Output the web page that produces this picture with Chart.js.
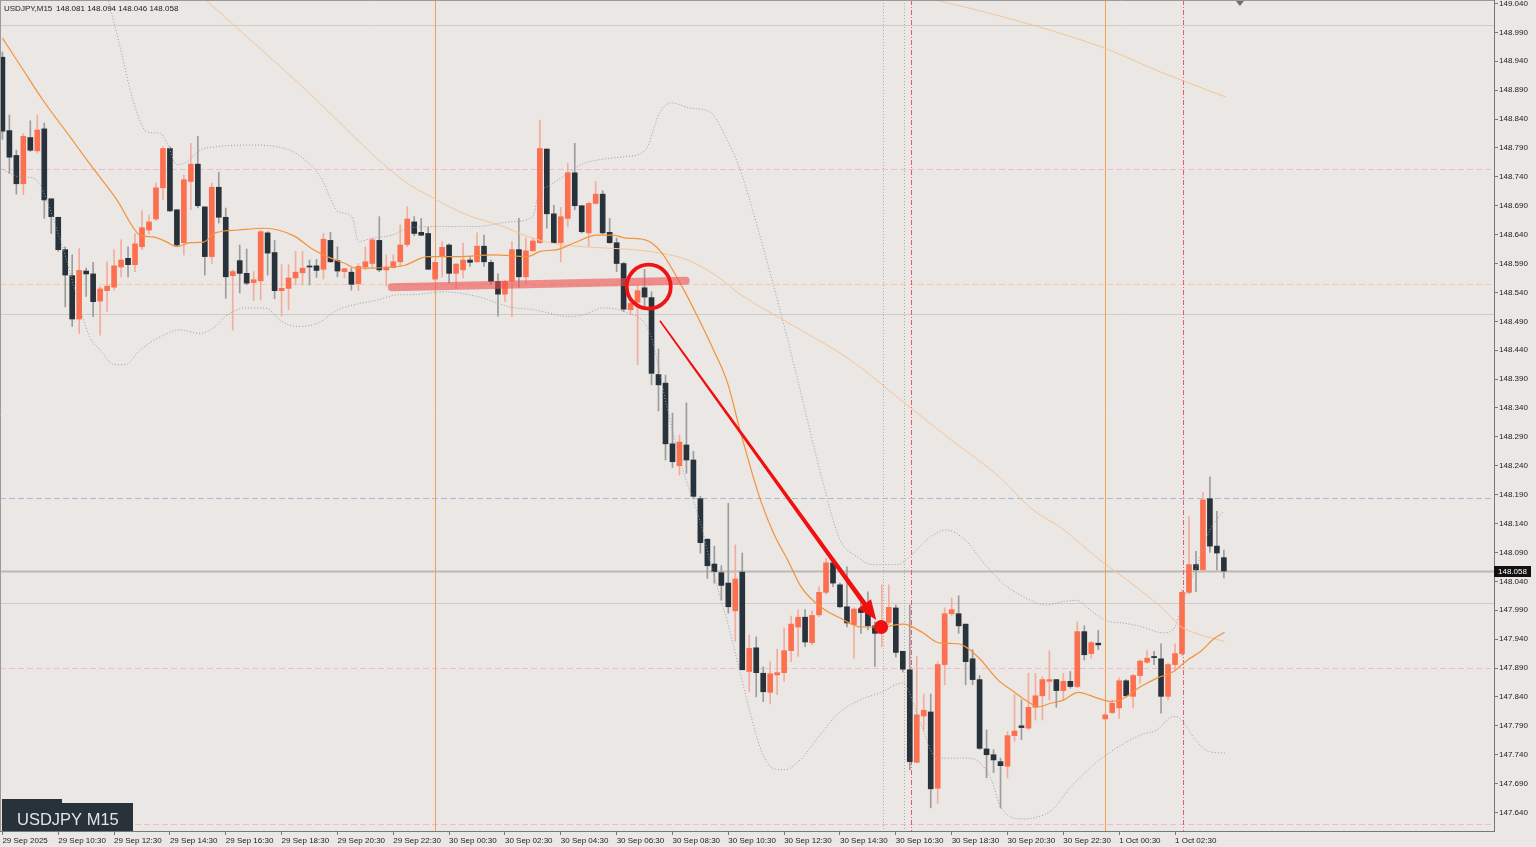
<!DOCTYPE html>
<html>
<head>
<meta charset="utf-8">
<title>USDJPY M15</title>
<script src="https://cdn.jsdelivr.net/npm/chart.js@4.4.1/dist/chart.umd.min.js"></script>
<style>
  html, body { margin: 0; padding: 0; background: #eae7e4; overflow: hidden; }
  canvas { display: block; }
</style>
</head>
<body>
<canvas id="priceChart" width="1536" height="847"></canvas>
<script>
'use strict';

/* USDJPY M15 candles, 29 Sep 08:30 -> 1 Oct 04:15 (one entry per bar) */
const opens = [
  148.947,148.820,148.777,148.728,148.808,148.785,148.823,148.702,148.670,148.614,
  148.569,148.494,148.577,148.572,148.525,148.543,148.549,148.584,148.599,148.588,
  148.619,148.648,148.667,148.721,148.789,148.683,148.626,148.732,148.762,148.688,
  148.602,148.722,148.670,148.569,148.595,148.573,148.557,148.560,148.643,148.609,
  148.543,148.547,148.565,148.574,148.585,148.586,148.580,148.630,148.595,148.576,
  148.575,148.555,148.584,148.590,148.630,148.579,148.583,148.593,148.623,148.662,
  148.644,148.642,148.563,148.602,148.622,148.573,148.579,148.596,148.593,148.620,
  148.592,148.559,148.537,148.560,148.614,148.567,148.612,148.626,148.788,148.676,
  148.626,148.668,148.747,148.690,148.643,148.694,148.710,148.644,148.626,148.590,
  148.510,148.523,148.548,148.531,148.398,148.383,148.278,148.240,148.276,148.250,
  148.183,148.113,148.070,148.055,148.037,147.989,148.056,147.884,147.925,147.881,
  147.848,147.878,147.882,147.920,147.961,147.978,147.934,147.982,148.021,148.072,
  148.034,147.996,147.965,147.992,147.986,147.963,147.951,147.969,147.994,147.919,
  147.887,147.727,147.807,147.814,147.682,147.896,147.984,147.984,147.966,147.906,
  147.870,147.750,147.740,147.728,147.720,147.773,147.790,147.786,147.822,147.842,
  147.867,147.870,147.851,147.867,147.858,147.953,147.915,147.933,147.802,147.813,
  147.821,147.868,147.841,147.877,147.900,147.910,147.906,147.841,147.896,147.915,
  148.021,148.069,148.060,148.183,148.101,148.081
];
const highs = [
  148.956,148.847,148.786,148.815,148.837,148.847,148.833,148.702,148.670,148.619,
  148.605,148.616,148.582,148.592,148.550,148.593,148.614,148.631,148.619,148.642,
  148.681,148.674,148.729,148.792,148.792,148.683,148.743,148.798,148.810,148.688,
  148.729,148.748,148.686,148.579,148.622,148.615,148.576,148.647,148.645,148.630,
  148.588,148.588,148.611,148.611,148.596,148.597,148.642,148.644,148.619,148.582,
  148.582,148.590,148.619,148.633,148.671,148.605,148.605,148.657,148.688,148.671,
  148.668,148.653,148.595,148.628,148.624,148.590,148.625,148.602,148.643,148.639,
  148.596,148.572,148.561,148.628,148.668,148.634,148.634,148.838,148.789,148.691,
  148.687,148.763,148.798,148.690,148.696,148.732,148.716,148.668,148.634,148.592,
  148.527,148.553,148.580,148.541,148.442,148.397,148.331,148.293,148.349,148.265,
  148.187,148.113,148.101,148.067,148.175,148.103,148.089,147.947,147.944,147.892,
  147.901,147.923,147.959,147.980,147.991,147.991,147.989,148.031,148.080,148.077,
  148.037,148.065,147.994,148.005,148.022,147.970,148.034,148.034,147.999,147.919,
  147.999,147.910,147.845,147.845,147.901,147.994,148.011,148.015,147.966,147.922,
  147.877,147.783,147.749,147.734,147.780,147.844,147.835,147.881,147.881,147.875,
  147.920,147.870,147.881,147.884,147.970,147.963,147.936,147.955,147.812,147.835,
  147.873,147.870,147.879,147.904,147.920,147.919,147.932,147.898,147.932,148.025,
  148.152,148.092,148.194,148.221,148.161,148.094
];
const lows = [
  148.805,148.746,148.710,148.709,148.784,148.781,148.668,148.642,148.611,148.515,
  148.481,148.469,148.533,148.498,148.466,148.507,148.544,148.567,148.567,148.576,
  148.614,148.641,148.664,148.700,148.680,148.619,148.605,148.683,148.686,148.570,
  148.590,148.660,148.530,148.475,148.539,148.553,148.526,148.527,148.570,148.529,
  148.499,148.510,148.553,148.553,148.553,148.566,148.563,148.592,148.567,148.565,
  148.544,148.543,148.579,148.584,148.576,148.551,148.582,148.585,148.619,148.638,
  148.638,148.580,148.560,148.567,148.556,148.547,148.565,148.585,148.592,148.585,
  148.553,148.499,148.524,148.498,148.549,148.556,148.611,148.625,148.651,148.625,
  148.593,148.654,148.683,148.643,148.620,148.693,148.641,148.625,148.576,148.507,
  148.501,148.415,148.513,148.380,148.335,148.250,148.237,148.224,148.227,148.184,
  148.089,148.045,148.037,148.008,147.985,147.936,147.887,147.849,147.840,147.832,
  147.828,147.844,147.867,147.901,147.910,147.927,147.930,147.979,148.018,148.031,
  147.994,147.961,147.907,147.950,147.956,147.893,147.927,147.965,147.909,147.883,
  147.714,147.726,147.783,147.648,147.656,147.861,147.980,147.950,147.861,147.861,
  147.749,147.700,147.709,147.648,147.700,147.763,147.766,147.783,147.800,147.800,
  147.835,147.822,147.835,147.855,147.856,147.904,147.907,147.922,147.800,147.811,
  147.803,147.840,147.821,147.864,147.898,147.896,147.812,147.835,147.887,147.911,
  148.018,148.022,148.056,148.090,148.060,148.046
];
const closes = [
  148.819,148.774,148.728,148.810,148.786,148.821,148.700,148.671,148.614,148.570,
  148.494,148.578,148.572,148.524,148.546,148.551,148.586,148.596,148.588,148.624,
  148.652,148.662,148.721,148.789,148.681,148.622,148.735,148.762,148.690,148.602,
  148.722,148.670,148.567,148.576,148.573,148.556,148.562,148.645,148.608,148.543,
  148.547,148.565,148.575,148.582,148.584,148.578,148.632,148.593,148.577,148.581,
  148.554,148.585,148.593,148.631,148.579,148.584,148.593,148.622,148.667,148.642,
  148.639,148.580,148.592,148.618,148.573,148.589,148.596,148.592,148.620,148.593,
  148.559,148.537,148.559,148.614,148.567,148.612,148.629,148.789,148.676,148.626,
  148.671,148.747,148.690,148.645,148.694,148.710,148.643,148.626,148.590,148.511,
  148.521,148.543,148.532,148.400,148.380,148.278,148.247,148.281,148.250,148.187,
  148.107,148.067,148.057,148.033,147.996,148.044,147.887,147.924,147.882,147.849,
  147.880,147.882,147.920,147.966,147.978,147.935,147.981,148.021,148.072,148.037,
  147.996,147.968,147.992,147.986,147.963,147.950,147.970,147.995,147.917,147.888,
  147.728,147.809,147.817,147.681,147.896,147.984,147.991,147.963,147.901,147.870,
  147.751,147.740,147.731,147.721,147.773,147.781,147.787,147.822,147.842,147.870,
  147.870,147.851,147.867,147.858,147.953,147.913,147.934,147.930,147.809,147.829,
  147.868,147.842,147.877,147.902,147.907,147.908,147.841,147.896,147.915,148.021,
  148.069,148.060,148.181,148.101,148.089,148.058
];

/* indicator lines: [bar index, price] */
const maLine = [
  [0,148.980],[2.5,148.934],[5.8,148.873],[9.7,148.809],[12.6,148.761],[16.4,148.700],
  [18.7,148.653],[19.7,148.639],[21.6,148.636],[23.6,148.627],[25,148.619],[26.9,148.626],
  [28.8,148.627],[30.5,148.643],[33.8,148.648],[37.6,148.651],[39.5,148.648],[41.9,148.637],
  [44.4,148.615],[46.7,148.601],[49.1,148.590],[50.6,148.582],[53,148.582],[55.9,148.584],
  [57.7,148.587],[59.9,148.599],[60.9,148.602],[65.6,148.602],[70.3,148.605],[75.2,148.602],
  [77.1,148.611],[79.5,148.614],[81.8,148.625],[85.2,148.639],[87.5,148.639],[89.3,148.634],
  [92.1,148.631],[94.3,148.611],[97.1,148.556],[99.6,148.498],[101.9,148.440],[103.9,148.383],
  [105.8,148.296],[108.6,148.181],[110.5,148.123],[112.5,148.077],[114.4,148.031],[117.2,147.996],
  [120.1,147.976],[123,147.961],[125.8,147.961],[129.1,147.966],[131.6,147.953],[134.4,147.933],
  [136.9,147.932],[139.7,147.910],[142.6,147.870],[144.9,147.849],[146.9,147.832],[148.3,147.823],
  [150.2,147.829],[152.1,147.835],[154.1,147.848],[156.9,147.838],[158.8,147.832],[160.2,147.835],
  [163.1,147.858],[165.5,147.873],[167.8,147.884],[169.8,147.904],[171.7,147.919],[173.4,147.939],
  [175.1,147.952]
];
const slowLine = [
  [28.3,149.055],[42.7,148.899],[57.3,148.735],[61.3,148.706],[66.6,148.674],[71.8,148.654],
  [75.2,148.637],[78.9,148.625],[83.2,148.619],[89.3,148.615],[94.3,148.608],[98.2,148.596],
  [102.5,148.567],[105.8,148.536],[114.4,148.475],[121.5,148.423],[128.7,148.354],[135.9,148.285],
  [143,148.219],[147.3,148.167],[152.1,148.129],[156.9,148.080],[161.7,148.037],[166.4,147.991],
  [168.8,147.962],[171.3,147.949],[175.1,147.936]
];
const slowerLine = [[132.3,149.050],[143,149.018],[157.4,148.965],[166,148.921],[175.3,148.878]];
const bbUpper = [
  [15.1,149.049],[16.8,148.968],[18.7,148.873],[20.7,148.818],[22.6,148.815],[23.6,148.798],
  [25.0,148.761],[26.4,148.766],[28.3,148.786],[30.5,148.792],[35.5,148.795],[41.2,148.786],
  [44.1,148.761],[45.8,148.735],[48.1,148.680],[50.1,148.671],[51.0,148.628],[53.0,148.634],
  [55.8,148.639],[58.4,148.652],[63.1,148.654],[68.0,148.654],[72.7,148.662],[76.0,148.671],
  [76.7,148.706],[78.5,148.726],[80.3,148.740],[83.2,148.763],[85.2,148.769],[89.2,148.775],
  [92.1,148.786],[94.2,148.852],[95.9,148.868],[98.5,148.859],[101.4,148.852],[103.5,148.812],
  [105.7,148.752],[108.5,148.639],[111.4,148.510],[114.3,148.371],[117.1,148.233],[120.0,148.112],
  [122.4,148.083],[124.7,148.069],[128.2,148.069],[130.0,148.083],[132.5,148.112],[135.1,148.129],
  [137.9,148.112],[140.8,148.069],[143.6,148.034],[147.2,148.008],[149.6,147.999],[151.9,148.005],
  [153.9,148.007],[155.8,147.991],[158.3,147.971],[160.5,147.968],[163.0,147.962],[166.3,147.951],
  [167.7,147.956],[168.7,147.985],[169.7,148.025],[171.1,148.066],[173.0,148.129],[174.9,148.161]
];
const bbLower = [
  [-0.3,148.755],[2.5,148.740],[4.4,148.738],[8.3,148.631],[11.4,148.501],[12.5,148.463],
  [14.0,148.440],[16.1,148.415],[17.6,148.415],[19.7,148.440],[23.6,148.469],[25.4,148.475],
  [28.3,148.469],[30.5,148.481],[31.9,148.498],[34.8,148.513],[37.6,148.513],[40.1,148.489],
  [42.3,148.481],[45.2,148.487],[48.1,148.510],[50.9,148.520],[53.8,148.527],[56.7,148.536],
  [58.4,148.536],[63.2,148.541],[68.0,148.533],[72.7,148.515],[76.0,148.510],[78.5,148.504],
  [80.9,148.498],[83.2,148.501],[86.1,148.513],[89.2,148.506],[92.8,148.469],[94.2,148.400],
  [95.2,148.342],[97.5,148.233],[99.9,148.146],[101.8,148.055],[103.8,147.973],[105.7,147.882],
  [107.4,147.800],[108.8,147.745],[110.3,147.717],[112.1,147.714],[114.3,147.731],[117.1,147.774],
  [120.0,147.814],[122.9,147.835],[125.7,147.847],[129.0,147.864],[131.5,147.795],[133.9,147.734],
  [138.6,147.734],[141.5,147.702],[143.1,147.648],[146.2,147.629],[149.4,147.637],[150.7,147.648],
  [152.7,147.679],[157.2,147.731],[163.0,147.774],[165.4,147.783],[167.7,147.806],[168.7,147.803],
  [170.9,147.766],[173.0,147.745],[175.2,147.743]
];

/* axes */
const timeTicks = [0,8,16,24,32,40,48,56,64,72,80,88,96,104,112,120,128,136,144,152,160,168];
const timeLabels = [
  '29 Sep 2025','29 Sep 10:30','29 Sep 12:30','29 Sep 14:30','29 Sep 16:30','29 Sep 18:30',
  '29 Sep 20:30','29 Sep 22:30','30 Sep 00:30','30 Sep 02:30','30 Sep 04:30','30 Sep 06:30',
  '30 Sep 08:30','30 Sep 10:30','30 Sep 12:30','30 Sep 14:30','30 Sep 16:30','30 Sep 18:30',
  '30 Sep 20:30','30 Sep 22:30','1 Oct 00:30','1 Oct 02:30'
];
const priceTicks = [
  149.040,148.990,148.940,148.890,148.840,148.790,148.740,148.690,148.640,148.590,
  148.540,148.490,148.440,148.390,148.340,148.290,148.240,148.190,148.140,148.090,
  148.040,147.990,147.940,147.890,147.840,147.790,147.740,147.690,147.640
];

/* chart objects drawn on the terminal */
const solidLevels = [149.003, 148.503, 148.002];
const pinkLevels = [148.754, 147.890, 147.620];
const peachLevel = 148.555;
const blueLevel = 148.184;
const currentPrice = 148.058;
const dayBreaks = [62, 158];
const greyMarks = [126.2, 129.2];
const redMarks = [130.2, 169.2];

const bgColor = '#eae7e4';
const bullBody = '#fc7050';
const bearBody = '#28323b';
const bullWick = '#f3ad9d';
const bearWick = '#9c9c9c';

const isBull = opens.map((o, i) => closes[i] >= o);
const toPts = arr => arr.map(([i, v]) => ({x: i, y: v}));

const decor = {
    id: 'decor',
    beforeDraw(chart) {
        const c = chart.ctx;
        c.save();
        c.fillStyle = bgColor;
        c.fillRect(0, 0, chart.width, chart.height);
        c.restore();
    },
    beforeDatasetsDraw(chart) {
        const {ctx: c, chartArea: a, scales: {x, y}} = chart;
        c.save();
        c.beginPath();
        c.rect(a.left, a.top, a.right - a.left, a.bottom - a.top);
        c.clip();
        const hl = (p, color, w, dash) => {
            const py = Math.round(y.getPixelForValue(p)) + 0.5;
            c.strokeStyle = color; c.lineWidth = w; c.setLineDash(dash);
            c.beginPath(); c.moveTo(a.left, py); c.lineTo(a.right, py); c.stroke();
        };
        const vl = (i, color, w, dash) => {
            const px = Math.round(x.getPixelForValue(i)) + 0.5;
            c.strokeStyle = color; c.lineWidth = w; c.setLineDash(dash);
            c.beginPath(); c.moveTo(px, a.top); c.lineTo(px, a.bottom); c.stroke();
        };
        solidLevels.forEach(p => hl(p, '#cfcbc7', 1, []));
        pinkLevels.forEach(p => hl(p, '#efbccb', 1, [6, 3]));
        hl(peachLevel, '#f4caa3', 1, [6, 3]);
        hl(blueLevel, '#a7bbd2', 1, [6, 3]);
        hl(currentPrice, '#bcb8b4', 2, []);
        dayBreaks.forEach(i => vl(i, '#f0a252', 1, []));
        greyMarks.forEach(i => vl(i, '#acacac', 1, [1, 2]));
        redMarks.forEach(i => vl(i, '#e85a6c', 1, [5, 2, 1, 2]));
        c.restore();
    },
    afterDatasetsDraw(chart) {
        const {ctx: c, scales: {x, y}} = chart;
        const px = (i, p) => ({x: x.getPixelForValue(i), y: y.getPixelForValue(p)});
        c.save();
        // zone marker
        const z0 = px(55.8, 148.549), z1 = px(97.9, 148.560);
        c.strokeStyle = 'rgba(238,80,80,0.6)';
        c.lineWidth = 8;
        c.lineCap = 'round';
        c.beginPath(); c.moveTo(z0.x, z0.y); c.lineTo(z1.x, z1.y); c.stroke();
        // circle
        const cc = px(92.6, 148.550);
        c.strokeStyle = '#ee1414';
        c.lineWidth = 3.8;
        c.beginPath(); c.arc(cc.x, cc.y, 22, 0, Math.PI * 2); c.stroke();
        // arrow
        const p0 = px(94.2, 148.491), p1 = px(125.2, 147.973);
        const dx = p1.x - p0.x, dy = p1.y - p0.y, len = Math.hypot(dx, dy);
        const ux = dx / len, uy = dy / len, nx = -uy, ny = ux;
        const bx = p1.x - ux * 20, by = p1.y - uy * 20;
        c.fillStyle = '#f01010';
        c.beginPath();
        c.moveTo(p0.x + nx * 0.8, p0.y + ny * 0.8);
        c.lineTo(bx + nx * 2.4, by + ny * 2.4);
        c.lineTo(bx + nx * 8, by + ny * 8);
        c.lineTo(p1.x, p1.y);
        c.lineTo(bx - nx * 8, by - ny * 8);
        c.lineTo(bx - nx * 2.4, by - ny * 2.4);
        c.lineTo(p0.x - nx * 0.8, p0.y - ny * 0.8);
        c.closePath(); c.fill();
        // dot
        const d = px(125.9, 147.961);
        c.beginPath(); c.arc(d.x, d.y, 7, 0, Math.PI * 2); c.fill();
        c.restore();
    },
    afterDraw(chart) {
        const {ctx: c, chartArea: a, scales: {x, y}} = chart;
        c.save();
        // frame
        c.strokeStyle = '#9a9a9a';
        c.lineWidth = 1;
        c.beginPath(); c.moveTo(0, 0.5); c.lineTo(a.right, 0.5); c.stroke();
        c.beginPath(); c.moveTo(0.5, 0); c.lineTo(0.5, a.bottom); c.stroke();
        // shift marker
        const tx = x.getPixelForValue(177.3);
        c.fillStyle = '#6e6e6e';
        c.beginPath(); c.moveTo(tx - 4, 1); c.lineTo(tx + 4, 1); c.lineTo(tx, 6); c.closePath(); c.fill();
        // header
        c.fillStyle = '#1c1c1c';
        c.font = '8px "Liberation Sans", Arial, sans-serif';
        c.textBaseline = 'alphabetic';
        c.textAlign = 'left';
        c.fillText('USDJPY,M15', 4, 11);
        c.fillText('148.081 148.094 148.046 148.058', 56, 11);
        // current price tag
        const cy = y.getPixelForValue(currentPrice);
        c.fillStyle = '#111111';
        c.fillRect(a.right, Math.round(cy) - 5, 37, 11);
        c.fillStyle = '#ffffff';
        c.textBaseline = 'middle';
        c.fillText('148.058', a.right + 4, Math.round(cy) + 0.5);
        // symbol box
        c.fillStyle = '#28323b';
        c.fillRect(2, 799, 60, 5);
        c.fillRect(2, 803, 131, a.bottom - 803);
        c.fillStyle = '#e4e4e4';
        c.font = '16.5px "Liberation Sans", Arial, sans-serif';
        c.textBaseline = 'alphabetic';
        c.fillText('USDJPY M15', 17, 825);
        c.restore();
    }
};

const ctx = document.getElementById('priceChart');

new Chart(ctx, {
    type: 'bar',
    data: {
        datasets: [
            { type: 'line', data: toPts(maLine), borderColor: '#f4923a', borderWidth: 1.2, pointRadius: 0, cubicInterpolationMode: 'monotone', order: 0 },
            { type: 'line', data: toPts(slowLine), borderColor: '#f7c497', borderWidth: 1, pointRadius: 0, cubicInterpolationMode: 'monotone', order: 0 },
            { type: 'line', data: toPts(slowerLine), borderColor: '#f7c497', borderWidth: 1, pointRadius: 0, cubicInterpolationMode: 'monotone', order: 0 },
            { type: 'line', data: toPts(bbUpper), borderColor: '#9d9da8', borderWidth: 1, borderDash: [1, 2], pointRadius: 0, cubicInterpolationMode: 'monotone', order: 0 },
            { type: 'line', data: toPts(bbLower), borderColor: '#9d9da8', borderWidth: 1, borderDash: [1, 2], pointRadius: 0, cubicInterpolationMode: 'monotone', order: 0 },
            {
                data: opens.map((o, i) => ({x: i, y: [o, closes[i]]})),
                backgroundColor: isBull.map(b => b ? bullBody : bearBody),
                barThickness: 5, maxBarThickness: 5, minBarLength: 1,
                grouped: false, borderWidth: 0, order: 1
            },
            {
                data: lows.map((l, i) => ({x: i, y: [l, highs[i]]})),
                backgroundColor: isBull.map(b => b ? bullWick : bearWick),
                barThickness: 1, maxBarThickness: 1,
                grouped: false, borderWidth: 0, order: 2
            }
        ]
    },
    options: {
        responsive: false,
        animation: false,
        events: [],
        layout: { padding: 0, autoPadding: false },
        plugins: { legend: { display: false }, tooltip: { enabled: false } },
        scales: {
            x: {
                type: 'linear',
                min: -0.344,
                max: 213.7,
                offset: false,
                grid: { drawOnChartArea: false, drawTicks: true, tickLength: 4, color: '#777777', offset: false },
                border: { display: true, color: '#777777' },
                ticks: {
                    autoSkip: false, maxRotation: 0, align: 'start', padding: 1,
                    color: '#1c1c1c',
                    font: { family: '"Liberation Sans", Arial, sans-serif', size: 8 },
                    callback: (v, idx) => timeLabels[idx]
                },
                afterBuildTicks: s => { s.ticks = timeTicks.map(v => ({value: v})); },
                afterFit: s => { s.height = 16; s.paddingLeft = 0; s.paddingRight = 0; }
            },
            y: {
                position: 'right',
                min: 147.608,
                max: 149.046,
                bounds: 'data',
                beginAtZero: false,
                grid: { drawOnChartArea: false, drawTicks: true, tickLength: 4, color: '#777777' },
                border: { display: true, color: '#777777' },
                ticks: {
                    crossAlign: 'near', padding: 1, autoSkip: false,
                    color: '#1c1c1c',
                    font: { family: '"Liberation Sans", Arial, sans-serif', size: 8 },
                    callback: v => v.toFixed(3)
                },
                afterBuildTicks: s => { s.ticks = priceTicks.map(v => ({value: v})); },
                afterFit: s => { s.width = 42; s.paddingTop = 0; s.paddingBottom = 0; }
            }
        }
    },
    plugins: [decor]
});
</script>
</body>
</html>
